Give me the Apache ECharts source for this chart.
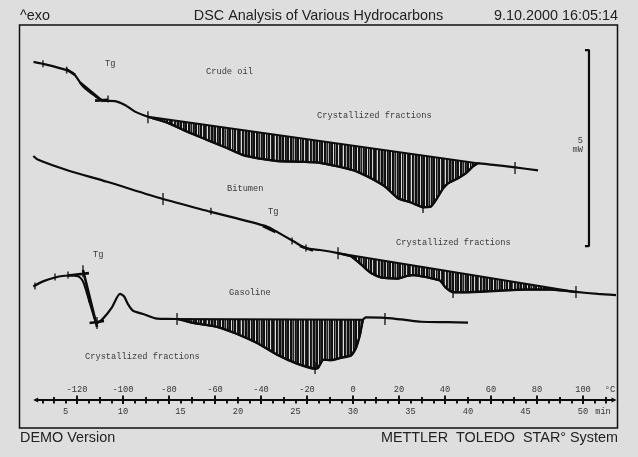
<!DOCTYPE html>
<html>
<head>
<meta charset="utf-8">
<style>html,body{margin:0;padding:0;background:#dedede}#main{width:638px;height:457px}</style>
<script src="https://cdn.jsdelivr.net/npm/echarts@6/dist/echarts.min.js"></script>
</head>
<body>
<div id="main"></div>
<script>
// time in min, heat flow in mW (zero at the lower frame edge)
var crudeTime = [2.22,3.04,5.10,5.74,6.52,7.57,8.26,9.30,10.17,11.04,12.17,13.83,15.57,17.30,19.04,20.43,21.91,23.39,25.39,26.96,28.70,30.17,31.57,32.78,33.91,35.04,36.09,36.78,37.22,37.83,38.26,39.13,39.83,40.43,40.87,42.00,44.09,46.09];
var crudeFlow = [9.34,9.29,9.13,9.03,8.72,8.47,8.35,8.34,8.24,8.07,7.94,7.79,7.56,7.35,7.14,6.96,6.87,6.81,6.79,6.77,6.67,6.56,6.37,6.16,5.86,5.75,5.63,5.65,5.82,6.11,6.24,6.37,6.50,6.67,6.75,6.72,6.65,6.57];

var bitumenTime = [2.20,2.63,5.10,8.61,13.48,17.57,22.52,23.22,24.78,25.83,26.26,27.13,28.70,29.83,30.70,31.57,32.43,33.91,34.61,35.22,36.52,37.57,38.09,38.70,39.74,42.61,44.96,47.22,49.39,51.30,52.87];
var bitumenFlow = [6.94,6.84,6.58,6.28,5.84,5.52,5.14,5.03,4.77,4.59,4.57,4.54,4.46,4.38,4.17,3.95,3.84,3.81,3.87,3.90,3.84,3.76,3.57,3.46,3.46,3.50,3.53,3.53,3.47,3.42,3.39];

var gasolineTime = [2.20,3.04,4.09,5.22,6.09,6.52,7.04,7.57,7.74,8.26,9.04,9.74,10.09,10.43,10.87,11.74,12.96,14.70,16.09,18.17,19.91,21.65,23.39,25.13,26.70,26.96,27.39,28.09,28.96,29.83,30.26,30.61,30.87,31.13,32.78,34.52,35.91,38.26,40.00];
var gasolineFlow = [3.61,3.74,3.84,3.89,3.87,3.74,3.27,2.76,2.68,2.79,3.08,3.42,3.36,3.16,2.99,2.91,2.79,2.78,2.68,2.58,2.40,2.17,1.87,1.64,1.51,1.53,1.74,1.73,1.79,1.85,2.04,2.38,2.76,2.82,2.81,2.76,2.71,2.70,2.69];

// onset and end of each integrated peak
var crudePeak = [12.17, 40.87];
var bitumenPeak = [28.70, 49.39];
var gasolinePeak = [14.70, 30.87];

// tangents of the Tg evaluation, null breaks the line
var tangentTime = [5.04,5.83,null,6.26,8.26,null,7.57,8.70,null,22.17,23.26,null,25.39,26.52,null,5.22,7.04,null,6.52,7.74,null,7.09,8.35];
var tangentFlow = [9.16,9.01,null,8.81,8.33,null,8.35,8.37,null,5.15,5.00,null,4.64,4.53,null,3.89,3.95,null,4.03,2.58,null,2.68,2.73];

// limit markers on the curves
var smallMarkTime = [3.04,5.10,8.70,17.65,4.09,2.35,5.22,7.04,25.91,24.70];
var smallMarkFlow = [9.29,9.13,8.39,5.53,3.85,3.62,3.90,3.29,4.59,4.77];
var bigMarkTime = [12.17,44.09,13.48,28.70,49.39,6.52,7.74,14.70,32.78,36.09,38.70,26.70];
var bigMarkFlow = [7.93,6.63,5.84,4.46,3.47,4.00,2.68,2.78,2.78,5.64,3.47,1.53];

// 5 mW scale bar
var scaleBarTime = [50.17,50.52,50.52,50.17];
var scaleBarFlow = [9.64,9.64,4.64,4.64];

var axisLineTime = [2.40,52.70];
var axisLineFlow = [0.714,0.714];

var timeLabels = [5,10,15,20,25,30,35,40,45,50,51.74];
var timeTicks = [3,4,5,6,7,8,9,10,11,12,13,14,15,16,17,18,19,20,21,22,23,24,25,26,27,28,29,30,31,32,33,34,35,36,37,38,39,40,41,42,43,44,45,46,47,48,49,50,51,52];
var tempLabels = [-120,-100,-80,-60,-40,-20,0,20,40,60,80,100,111.7];
var tempMajor = [-120,-100,-80,-60,-40,-20,0,20,40,60,80,100];
var tempMinor = [-130,-110,-90,-70,-50,-30,-10,10,30,50,70,90,110];

var INK = '#0c0c0c';
var MONO = '"Liberation Mono", monospace';
var SANS = '"Liberation Sans", sans-serif';

function pairs(xs, ys)
{
	var out = [];
	for( var i = 0 ; i < xs.length ; i++ )
	{
		out.push( xs[i] === null ? [null,null] : [xs[i],ys[i]] );
	}
	return out;
}

// vertical hatching, uneven like the plotter output
function hatchPattern()
{
	var cols = ['#111','#111','#444','#ddd','#111','#222','#999','#111','#111','#666','#111','#111','#ccc','#111','#333','#111','#111','#ddd','#111','#111','#666','#222','#aaa','#111','#333','#111','#111','#ddd','#111','#777','#111','#111','#d4d4d4','#222'];
	var c = document.createElement('canvas');
	c.width = cols.length;
	c.height = 4;
	var g = c.getContext('2d');
	for( var i = 0 ; i < cols.length ; i++ )
	{
		g.fillStyle = cols[i];
		g.fillRect(i,0,1,4);
	}
	return c;
}
var hatch = { type:'pattern', image:hatchPattern(), repeat:'repeat' };

function curve(xs, ys)
{
	return { type:'line', data:pairs(xs,ys), smooth:0.25, symbol:'none', silent:true,
		lineStyle:{ color:INK, width:2.2 } };
}

function peak(xs, ys, range)
{
	return { type:'custom', data:[range], silent:true, z:1,
		renderItem:function(params, api){
			var points = [];
			for( var i = 0 ; i < xs.length ; i++ )
			{
				if( xs[i] >= range[0] && xs[i] <= range[1] )
				{
					points.push( api.coord([xs[i],ys[i]]) );
				}
			}
			return { type:'polygon', shape:{ points:points },
				style:{ fill:hatch, stroke:INK, lineWidth:2 } };
		} };
}

function marks(xs, ys, h)
{
	return { type:'scatter', data:pairs(xs,ys), symbol:'rect', symbolSize:[1.6,h],
		silent:true, z:4, itemStyle:{ color:INK } };
}

function tickAxis(min, max, ticks, inside, len, label)
{
	var a = { type:'value', min:min, max:max, position:'bottom', offset:-28,
		axisLine:{ show:false, onZero:false }, splitLine:{ show:false },
		axisTick:{ show:true, customValues:ticks, inside:inside, length:len, lineStyle:{ color:INK, width:1.9 } },
		axisLabel:{ show:false } };
	if( label ) { a.axisLabel = label; }
	return a;
}

function note(text, x, y)
{
	return { type:'text', x:x, y:y, silent:true,
		style:{ text:text, fill:'#3a3a3a', font:'8.7px ' + MONO, textVerticalAlign:'middle' } };
}

function head(text, x, y, align)
{
	return { type:'text', x:x, y:y, silent:true,
		style:{ text:text, fill:'#222', font:'14.4px ' + SANS, textAlign:align, textVerticalAlign:'middle' } };
}

var option = {
	backgroundColor:'#dedede',
	animation:false,
	grid:{ left:19.5, top:25, width:598, height:403, show:true, backgroundColor:'#dedede', borderColor:'#111', borderWidth:1.5 },
	xAxis:[
		tickAxis(1, 53, timeTicks, false, 3.5, { show:true, customValues:timeLabels, margin:7, color:'#333', fontSize:8.7, fontFamily:MONO,
			formatter:function(v){ return v > 51 ? 'min' : String(v); } }),
		tickAxis(-145, 115, tempMinor, true, 3),
		tickAxis(-145, 115, tempMajor, true, 4.5, { show:true, inside:true, customValues:tempLabels, margin:6, color:'#333', fontSize:8.7, fontFamily:MONO,
			formatter:function(v){ return v > 100 ? '°C' : String(v); } }),
		tickAxis(-145, 115, tempMajor, false, 4)
	],
	yAxis:{ type:'value', min:0, max:10.28, show:false },
	graphic:[
		head('^exo', 20, 16, 'left'),
		head('DSC Analysis of Various Hydrocarbons', 318.5, 16, 'center'),
		head('9.10.2000 16:05:14', 618, 16, 'right'),
		head('DEMO Version', 20, 438, 'left'),
		head('METTLER  TOLEDO  STAR° System', 618, 438, 'right'),
		note('Tg', 105, 64),
		note('Crude oil', 206, 71.5),
		note('Crystallized fractions', 317, 115.5),
		note('Bitumen', 227, 189),
		note('Tg', 268, 212),
		note('Crystallized fractions', 396, 243),
		note('Tg', 93, 255),
		note('Gasoline', 229, 293),
		note('Crystallized fractions', 85, 357),
		{ type:'text', x:583, y:141, silent:true, style:{ text:'5', fill:'#3a3a3a', font:'8.7px ' + MONO, textAlign:'right', textVerticalAlign:'middle' } },
		{ type:'text', x:583, y:150, silent:true, style:{ text:'mW', fill:'#3a3a3a', font:'8.7px ' + MONO, textAlign:'right', textVerticalAlign:'middle' } }
	],
	series:[
		peak(crudeTime, crudeFlow, crudePeak),
		peak(bitumenTime, bitumenFlow, bitumenPeak),
		peak(gasolineTime, gasolineFlow, gasolinePeak),
		curve(crudeTime, crudeFlow),
		curve(bitumenTime, bitumenFlow),
		curve(gasolineTime, gasolineFlow),
		{ type:'line', data:pairs(tangentTime,tangentFlow), symbol:'none', silent:true, lineStyle:{ color:INK, width:2.6 } },
		marks(smallMarkTime, smallMarkFlow, 7),
		marks(bigMarkTime, bigMarkFlow, 12),
		{ type:'line', data:pairs(scaleBarTime,scaleBarFlow), symbol:'none', silent:true, lineStyle:{ color:INK, width:2.2 } },
		{ type:'line', data:pairs(axisLineTime,axisLineFlow), symbol:'triangle', symbolSize:5, silent:true,
			symbolRotate:function(v,p){ return p.dataIndex ? -90 : 90; },
			itemStyle:{ color:INK }, lineStyle:{ color:INK, width:2 } }
	]
};

var chart = echarts.init(document.getElementById('main'));
chart.setOption(option);
</script>
</body>
</html>
